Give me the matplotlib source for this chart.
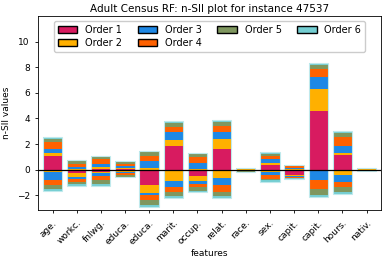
import numpy as np
from matplotlib import pyplot as plt
from matplotlib.patches import Patch

features = ["age.", "workc.", "fnlwg.", "educa.", "educa.", "marit.", "occup.",
            "relat.", "race.", "sex.", "capit.", "capit.", "hours.", "nativ."]
order_labels = ["Order 1", "Order 2", "Order 3", "Order 4", "Order 5", "Order 6"]
order_colors = ["#D81B60", "#FFB000", "#1E88E5", "#FE6100", "#7F975F", "#74CED2"]

# positive parts per order (rows) and feature (columns)
pos_values = [
    [1.04, 0.00, 0.05, 0.05, 0.00, 1.85, 0.00, 1.62, 0.00, 0.39, 0.00, 4.57, 1.12, 0.00],
    [0.26, 0.05, 0.15, 0.05, 0.10, 0.47, 0.03, 0.78, 0.01, 0.11, 0.05, 1.70, 0.16, 0.01],
    [0.31, 0.15, 0.20, 0.20, 0.60, 0.58, 0.50, 0.55, 0.01, 0.36, 0.08, 0.93, 0.57, 0.01],
    [0.52, 0.20, 0.40, 0.15, 0.35, 0.44, 0.47, 0.47, 0.07, 0.24, 0.12, 0.63, 0.68, 0.05],
    [0.29, 0.25, 0.15, 0.15, 0.30, 0.29, 0.20, 0.28, 0.05, 0.15, 0.08, 0.32, 0.32, 0.04],
    [0.13, 0.10, 0.10, 0.08, 0.12, 0.13, 0.10, 0.16, 0.01, 0.10, 0.06, 0.18, 0.15, 0.01],
]
# negative parts per order (rows) and feature (columns)
neg_values = [
    [-0.02, -0.29, -0.15, -0.05, -1.20, 0.00, -0.52, 0.00, -0.01, 0.00, -0.45, 0.00, 0.00, -0.01],
    [-0.18, -0.26, -0.15, -0.10, -0.60, -0.86, -0.39, -0.68, -0.01, -0.20, -0.05, -0.10, -0.44, -0.01],
    [-0.60, -0.16, -0.20, -0.10, -0.20, -0.47, -0.18, -0.52, -0.01, -0.20, -0.06, -0.70, -0.50, -0.01],
    [-0.42, -0.23, -0.30, -0.20, -0.38, -0.39, -0.31, -0.52, -0.07, -0.30, -0.08, -0.71, -0.44, -0.04],
    [-0.31, -0.21, -0.35, -0.10, -0.36, -0.32, -0.26, -0.34, -0.05, -0.15, -0.04, -0.45, -0.40, -0.03],
    [-0.16, -0.10, -0.15, -0.05, -0.21, -0.15, -0.10, -0.16, -0.01, -0.10, -0.04, -0.21, -0.15, -0.01],
]

fig = plt.figure(figsize=(3.88, 2.64), dpi=100)
ax = fig.add_axes([0.098, 0.205, 0.884, 0.734])

x = np.arange(len(features))
bottom_pos = np.zeros(len(features))
bottom_neg = np.zeros(len(features))
for i in range(len(order_labels)):
    p = np.array(pos_values[i])
    n = np.array(neg_values[i])
    ax.bar(x, p, width=0.8, bottom=bottom_pos, color=order_colors[i], linewidth=0)
    ax.bar(x, n, width=0.8, bottom=bottom_neg, color=order_colors[i], linewidth=0)
    bottom_pos += p
    bottom_neg += n

# pale halo round each whole bar
ax.bar(x, bottom_pos - bottom_neg, width=0.8, bottom=bottom_neg, facecolor="none",
       edgecolor="#BFE9EC", linewidth=0.8)

ax.axhline(0, color="black", linewidth=0.9)

handles = [Patch(facecolor=c, edgecolor="black", label=l)
           for c, l in zip(order_colors, order_labels)]
ax.legend(handles=handles, ncol=4, loc="upper center", fontsize=7.0,
          handlelength=2.0, columnspacing=1.6, borderpad=0.4,
          labelspacing=0.3, framealpha=1.0)

ax.set_ylim(-3.15, 12.0)
ax.set_xlim(-0.6, len(features) - 0.4)
ax.set_yticks([-2, 0, 2, 4, 6, 8, 10])
ax.set_xticks(x)
ax.set_xticklabels(features, rotation=45, ha="right", rotation_mode="anchor")
ax.tick_params(labelsize=6.5, length=2.5, width=0.6)
for s in ax.spines.values():
    s.set_linewidth(0.6)

ax.set_title("Adult Census RF: n-SII plot for instance 47537", fontsize=7.5, pad=3)
ax.set_xlabel("features", fontsize=6.5, labelpad=2)
ax.set_ylabel("n-SII values", fontsize=6.5)

fig.savefig("out.png", dpi=100)
